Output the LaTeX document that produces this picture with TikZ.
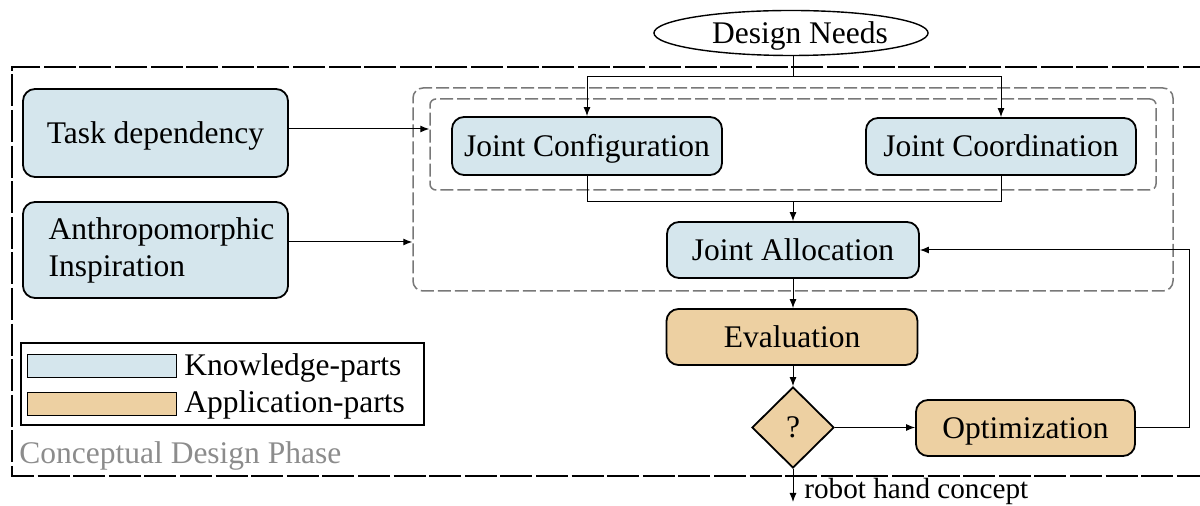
\documentclass[tikz,border=0pt]{standalone}
\usepackage{fontspec}
\setmainfont{Liberation Serif}
\usetikzlibrary{shapes.geometric,arrows.meta}
\definecolor{knowfill}{RGB}{213,230,237}
\definecolor{applfill}{RGB}{237,208,162}
\definecolor{groupgray}{RGB}{120,120,120}
\definecolor{phasegray}{RGB}{140,140,140}

\begin{document}
\begin{tikzpicture}[x=0.5pt,y=-0.5pt,
  every node/.style={font=\fontsize{15.75}{18.5}\selectfont, inner sep=0pt},
  onerow/.style={text height=10.4pt, text depth=0pt},
  block/.style={draw, line width=0.9pt, rounded corners=6pt},
  know/.style={block, fill=knowfill},
  appl/.style={block, fill=applfill},
  decision/.style={draw, line width=0.9pt, fill=applfill, shape=diamond},
  groupbox/.style={draw=groupgray, line width=0.75pt, dash pattern=on 6.5pt off 2pt, rounded corners=#1},
  link/.style={line width=0.5pt},
  arrow/.style={link, -{Latex[length=4.5pt,width=3.5pt]}},
  swatch/.style={draw, line width=0.5pt, minimum width=74.5pt, minimum height=11.5pt}
]
\useasboundingbox (0,0) rectangle (1200,506);

% phase frame (open to the right)
\draw[line width=0.6pt, dash pattern=on 16pt off 1.8pt]
  (1215,67) -- (12,67) -- (12,476) -- (1215,476);

% knowledge groups
\node[groupbox=5pt, minimum width=380pt, minimum height=101.5pt] (phasegroup) at (793,189.5) {};
\node[groupbox=3pt, minimum width=363pt, minimum height=45.5pt] (jointgroup) at (793,144.5) {};

% blocks
\node[draw, ellipse, onerow, line width=0.7pt, minimum width=137pt, minimum height=22.5pt] (need) at (791,33) {\hspace*{9pt}Design Needs};
\node[know, onerow, minimum width=132.5pt, minimum height=44pt] (task) at (155.5,133) {Task dependency};
\node[know, minimum width=132.5pt, minimum height=48pt, align=left] (anth) at (155.5,250) {\hspace*{6pt}Anthropomorphic\\\hspace*{6pt}Inspiration};
\node[know, onerow, minimum width=135pt, minimum height=29pt] (config) at (587,146) {Joint Configuration};
\node[know, onerow, minimum width=135pt, minimum height=28.5pt] (coord) at (1001,146.5) {Joint Coordination};
\node[know, onerow, minimum width=126pt, minimum height=28pt] (alloc) at (793,250) {Joint Allocation};
\node[appl, onerow, minimum width=125.5pt, minimum height=28pt] (eval) at (792,337) {Evaluation};
\node[decision, onerow, minimum width=41pt, minimum height=40.5pt] (dec) at (793,427.5) {?};
\node[appl, onerow, minimum width=109.5pt, minimum height=28pt] (opt) at (1025.5,428) {Optimization};

% legend
\node[draw, line width=0.6pt, minimum width=201.5pt, minimum height=41pt] (legend) at (222.5,384) {};
\node[swatch, fill=knowfill] (kswatch) at (101.5,366.5) {};
\node[swatch, fill=applfill] (aswatch) at (101.5,404.5) {};
\node[anchor=base west] (klabel) at (184,376) {Knowledge-parts};
\node[anchor=base west] (alabel) at (184,413) {Application-parts};
\node[anchor=base west, text=phasegray] (phaselabel) at (19,464) {Conceptual Design Phase};

% connectors
\coordinate (split) at (793,77);
\coordinate (merge) at (793,202);
\coordinate (loop) at (1189,340);
\coordinate (result) at (793,502);

\draw[link] (need.south -| split) -- (split);
\draw[arrow] (split) -| (config.north);
\draw[arrow] (split) -| (coord.north);
\draw[link] (coord.south) |- (merge);
\draw[arrow] (config.south) |- (merge) -- (alloc.north);
\draw[arrow] ([yshift=2pt]task.east) -- ([yshift=2pt]task.east -| jointgroup.west);
\draw[arrow] ([yshift=4pt]anth.east) -- ([yshift=4pt]anth.east -| phasegroup.west);
\draw[arrow] (alloc.south) -- (alloc.south |- eval.north);
\draw[arrow] (eval.south -| dec.north) -- (dec.north);
\draw[arrow] (dec.east) -- (dec.east -| opt.west);
\draw[arrow] (opt.east) -| (loop) |- (alloc.east);
\draw[arrow] (dec.south) -- (result);
\node[anchor=base west, font=\fontsize{14.6}{17}\selectfont] (resultlabel) at (804,499) {robot hand concept};
\end{tikzpicture}
\end{document}
